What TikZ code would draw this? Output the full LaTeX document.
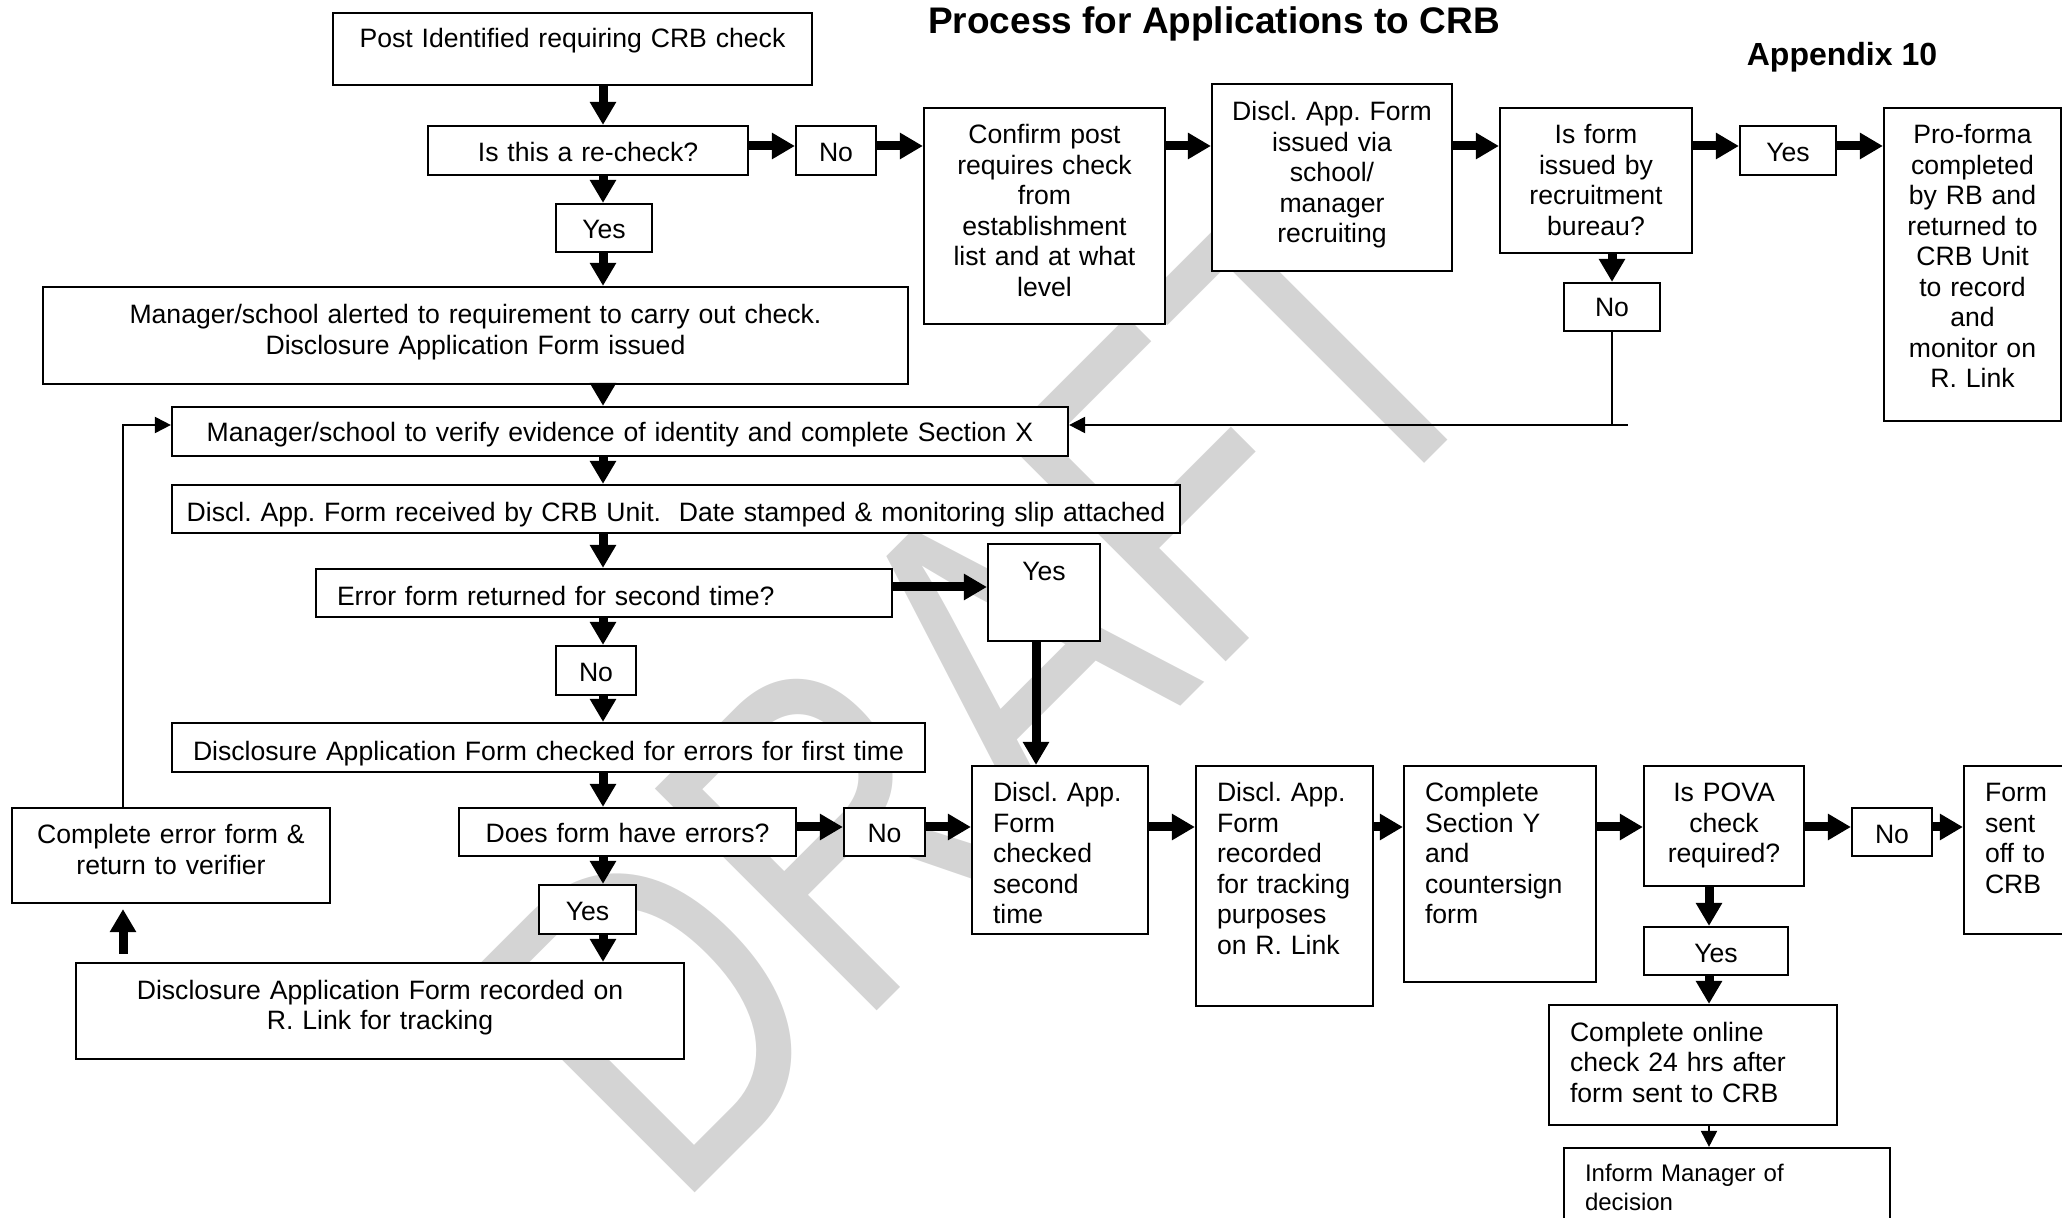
\documentclass[tikz,border=0pt]{standalone}
\usepackage{fontspec}
\setmainfont{Liberation Sans}
\usetikzlibrary{arrows.meta}
\frenchspacing

\begin{document}
\begin{tikzpicture}[x=0.5pt,y=-0.5pt,font=\fontsize{13.3}{15.25}\selectfont,
	box/.style n args={3}{draw,fill=white,line width=1.1pt,inner sep=0pt,text width=#1,text height=#2,text depth=#3,align=center},
	lbox/.style n args={3}{box={#1}{#2}{#3},align=left,execute at begin node={\leftskip=10.5pt}},
	arr/.style={line width=4.5pt,-{Triangle[width=12.5pt,length=11.5pt]}},
	farr/.style={line width=1pt,-{Triangle[width=8pt,length=8pt]}}]
\useasboundingbox (0,0) rectangle (2062,1218);
\node[text=black!17,rotate=45,font=\fontsize{228}{228}\selectfont] (draft) at (983,683) {\scalebox{0.78}[1]{DRAFT}};

\node[font=\bfseries\fontsize{18.5}{22}\selectfont] (title) at (1214,24) {Process for Applications to CRB};
\node[font=\bfseries\fontsize{16}{19}\selectfont] (app) at (1842,57) {Appendix 10};

		\node[box={239.5pt}{17.5pt}{18.5pt}] (post) at (572.5,49) {Post Identified requiring CRB check};
		\node[box={160pt}{18pt}{6.5pt}] (recheck) at (588,150.5) {Is this a re-check?};
		\node[box={40pt}{18pt}{6.5pt}] (no1) at (836,150.5) {No};
		\node[box={120.5pt}{18pt}{90pt}] (confirm) at (1044.5,216) {Confirm post\\requires check\\from\\establishment\\list and at what\\level};
		\node[box={120pt}{18.5pt}{75pt}] (issued) at (1332,177.5) {Discl. App. Form\\issued via\\school/\\manager\\recruiting};
		\node[box={96pt}{18pt}{54.5pt}] (isform) at (1596,180.5) {Is form\\issued by\\recruitment\\bureau?};
		\node[box={48pt}{18pt}{6.5pt}] (yes2) at (1788,150.5) {Yes};
		\node[box={88.5pt}{18pt}{138.5pt}] (proforma) at (1972.5,264.5) {Pro-forma\\completed\\by RB and\\returned to\\CRB Unit\\to record\\and\\monitor on\\R. Link};
		\node[box={48pt}{17pt}{7pt}] (no2) at (1612,307) {No};
		\node[box={48pt}{17.5pt}{6.5pt}] (yes1) at (604,228) {Yes};
		\node[box={432.5pt}{18.5pt}{30pt}] (alerted) at (475.5,335.5) {Manager/school alerted to requirement to carry out check.\\Disclosure Application Form issued};
		\node[box={448pt}{17.5pt}{7pt}] (verify) at (620,431.5) {Manager/school to verify evidence of identity and complete Section X};
		\node[box={504pt}{18.5pt}{5.5pt}] (received) at (676,509) {Discl. App. Form received by CRB Unit.\ \ Date stamped \& monitoring slip attached};
		\node[lbox={288pt}{18.5pt}{5.5pt}] (errret) at (604,593) {Error form returned for second time?};
		\node[box={56pt}{18.5pt}{30pt}] (yes3) at (1044,592.5) {Yes};
		\node[box={40pt}{18pt}{6.5pt}] (no3) at (596,670.5) {No};
		\node[box={376.5pt}{19pt}{5.5pt}] (first) at (548.5,747.5) {Disclosure Application Form checked for errors for first time};
		\node[box={168.5pt}{17pt}{7pt}] (errors) at (627.5,832) {Does form have errors?};
		\node[box={40.5pt}{17pt}{7pt}] (no4) at (884.5,832) {No};
		\node[box={48.5pt}{18pt}{6.5pt}] (yes5) at (587.5,909.5) {Yes};
		\node[box={159pt}{18pt}{29.5pt}] (errform) at (171,855.5) {Complete error form \&\\return to verifier};
		\node[box={304pt}{18pt}{30pt}] (recorded) at (380,1011) {Disclosure Application Form recorded on\\R. Link for tracking};
		\node[lbox={88pt}{18pt}{66pt}] (second) at (1060,850) {Discl. App.\\Form\\checked\\second\\time};
		\node[lbox={88.5pt}{18pt}{102pt}] (tracking) at (1284.5,886) {Discl. App.\\Form\\recorded\\for tracking\\purposes\\on R. Link};
		\node[lbox={96pt}{18pt}{90pt}] (secy) at (1500,874) {Complete\\Section Y\\and\\countersign\\form};
		\node[box={80pt}{18pt}{42pt}] (pova) at (1724,826) {Is POVA\\check\\required?};
		\node[box={40pt}{18pt}{6pt}] (no5) at (1892,832) {No};
		\node[lbox={88pt}{18pt}{66pt}] (sent) at (2052,850) {Form\\sent\\off to\\CRB};
		\node[box={72pt}{17.5pt}{6.5pt}] (yes4) at (1716,951) {Yes};
		\node[lbox={144pt}{18pt}{42pt}] (online) at (1693,1065) {Complete online\\check 24 hrs after\\form sent to CRB};
		\node[lbox={163pt}{16.5pt}{39.5pt},font=\fontsize{12}{14.5}\selectfont] (inform) at (1727,1204) {Inform Manager of\\decision};

\coordinate (spine) at (603,0);
\coordinate (fb) at (123,0);
\coordinate (col) at (1036,0);
\coordinate (pcol) at (1709,0);
\coordinate (row1) at (0,146);
\coordinate (row2) at (0,827);
\coordinate (row3) at (0,587);
\coordinate (loop) at (0,425);

			\draw[arr] (post.south -| spine) -- (recheck.north -| spine);
			\draw[arr] (recheck.south -| spine) -- (yes1.north -| spine);
			\draw[arr] (yes1.south -| spine) -- (alerted.north -| spine);
			\draw[arr] (alerted.south -| spine) -- (verify.north -| spine);
			\draw[arr] (verify.south -| spine) -- (received.north -| spine);
			\draw[arr] (received.south -| spine) -- (errret.north -| spine);
			\draw[arr] (errret.south -| spine) -- (no3.north -| spine);
			\draw[arr] (no3.south -| spine) -- (first.north -| spine);
			\draw[arr] (first.south -| spine) -- (errors.north -| spine);
			\draw[arr] (errors.south -| spine) -- (yes5.north -| spine);
			\draw[arr] (yes5.south -| spine) -- (recorded.north -| spine);
			\draw[arr] (recheck.east |- row1) -- (no1.west |- row1);
			\draw[arr] (no1.east |- row1) -- (confirm.west |- row1);
			\draw[arr] (confirm.east |- row1) -- (issued.west |- row1);
			\draw[arr] (issued.east |- row1) -- (isform.west |- row1);
			\draw[arr] (isform.east |- row1) -- (yes2.west |- row1);
			\draw[arr] (yes2.east |- row1) -- (proforma.west |- row1);
			\draw[arr] (isform.south -| no2.north) -- (no2.north);
			\draw[farr] (no2.south) |- (verify.east |- loop);
			\draw[line width=1pt] (no2.south |- loop) -- ++(16,0);
			\draw[farr] (errform.north -| fb) |- (verify.west |- loop);
			\draw[arr,shorten <=4pt,shorten >=2.5pt] (recorded.north -| fb) -- (errform.south -| fb);
			\draw[arr] (errret.east |- row3) -- (yes3.west |- row3);
			\draw[arr] (yes3.south -| col) -- (second.north -| col);
			\draw[arr] (errors.east |- row2) -- (no4.west |- row2);
			\draw[arr] (no4.east |- row2) -- (second.west |- row2);
			\draw[arr] (second.east |- row2) -- (tracking.west |- row2);
			\draw[arr] (tracking.east |- row2) -- (secy.west |- row2);
			\draw[arr] (secy.east |- row2) -- (pova.west |- row2);
			\draw[arr] (pova.east |- row2) -- (no5.west |- row2);
			\draw[arr] (no5.east |- row2) -- (sent.west |- row2);
			\draw[arr] (pova.south -| pcol) -- (yes4.north -| pcol);
			\draw[arr] (yes4.south -| pcol) -- (online.north -| pcol);
			\draw[farr] (online.south -| pcol) -- (inform.north -| pcol);
\end{tikzpicture}
\end{document}
